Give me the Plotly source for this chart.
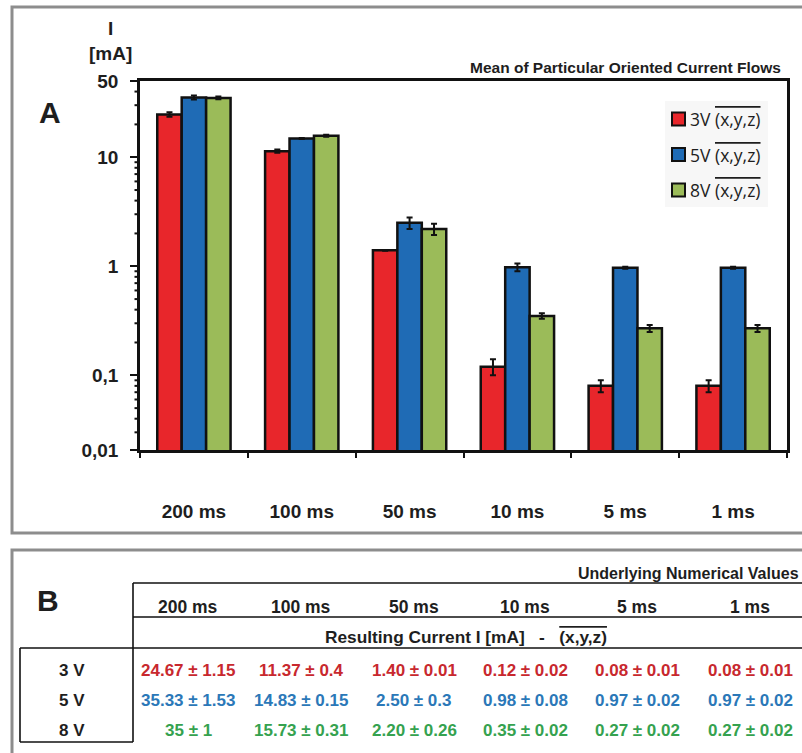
import math
import plotly.graph_objects as go

# ---- data -------------------------------------------------------------
durations = ["200 ms", "100 ms", "50 ms", "10 ms", "5 ms", "1 ms"]
voltages = ["3 V", "5 V", "8 V"]
series_names = ["3V", "5V", "8V"]

# mean ± sd of the resulting current I [mA]
cells_3v = ["24.67 ± 1.15", "11.37 ± 0.4", "1.40 ± 0.01", "0.12 ± 0.02", "0.08 ± 0.01", "0.08 ± 0.01"]
cells_5v = ["35.33 ± 1.53", "14.83 ± 0.15", "2.50 ± 0.3", "0.98 ± 0.08", "0.97 ± 0.02", "0.97 ± 0.02"]
cells_8v = ["35 ± 1", "15.73 ± 0.31", "2.20 ± 0.26", "0.35 ± 0.02", "0.27 ± 0.02", "0.27 ± 0.02"]

y_tick_vals = [50, 10, 1, 0.1]
y_tick_text = ["50", "10", "1", "0,1"]

bar_colors = ["#e8262b", "#1f6bb5", "#9bbb59"]
text_colors = ["#c8282e", "#2b78b8", "#35a24f"]


def split_cell(s):
    m, e = s.split("±")
    return float(m), float(e)


rows = [cells_3v, cells_5v, cells_8v]

# ---- figure geometry (pixels) ----------------------------------------
W, H = 802, 753
L, R = 140, 787           # plot area left / right
T, B = 81, 450            # plot area top / bottom
Y_LOW = -1.685            # log10 of the axis floor
Y_HIGH = math.log10(50)


def px(x):
    return (x - L) / (R - L)


def py(y):
    return (B - y) / (B - T)


def log_to_paper(v):
    return (math.log10(v) - Y_LOW) / (Y_HIGH - Y_LOW)


fig = go.Figure()

for name, cells, color in zip(series_names, rows, bar_colors):
    means = [split_cell(c)[0] for c in cells]
    errs = [split_cell(c)[1] for c in cells]
    fig.add_trace(go.Bar(
        x=durations, y=means, name=name,
        marker=dict(color=color, line=dict(color="#111111", width=2.5)),
        error_y=dict(type="data", array=errs, visible=True,
                     color="#111111", thickness=2, width=3),
        showlegend=False,
    ))

bold = "Liberation Sans"
ink = "#1e1e1e"

fig.update_layout(
    width=W, height=H,
    margin=dict(l=L, r=W - R, t=T, b=H - B),
    paper_bgcolor="white", plot_bgcolor="white",
    barmode="group", bargap=0.32, bargroupgap=0,
    font=dict(family=bold, color=ink),
)

fig.update_yaxes(
    type="log", range=[Y_LOW, Y_HIGH],
    tickmode="array",
    tickvals=y_tick_vals + [10 ** Y_LOW],
    ticktext=[f"<b>{t}</b>" for t in y_tick_text] + ["<b>0,01</b>"],
    tickfont=dict(family=bold, size=19, color=ink),
    ticks="outside", ticklen=7, tickwidth=2, tickcolor="#111111",
    showline=True, linecolor="#111111", linewidth=2.5, mirror=True,
    showgrid=False, zeroline=False, ticklabelstandoff=8,
)
fig.update_xaxes(
    tickmode="array", tickvals=durations,
    ticktext=[f"<b>{d}</b>" for d in durations],
    tickfont=dict(family=bold, size=19, color=ink),
    ticks="outside", tickson="boundaries", ticklen=5, tickwidth=2,
    tickcolor="#111111",
    showline=True, linecolor="#111111", linewidth=2.5, mirror=True,
    showgrid=False, ticklabelstandoff=42,
)

shapes = []
annotations = []


def line(x0, y0, x1, y1, color="#111111", width=1.6):
    shapes.append(dict(type="line", xref="paper", yref="paper",
                       x0=px(x0), y0=py(y0), x1=px(x1), y1=py(y1),
                       line=dict(color=color, width=width)))


def text(x, y, s, size, xanchor="center", color=ink, family=bold):
    annotations.append(dict(xref="paper", yref="paper", x=px(x), y=py(y),
                            text=s, showarrow=False, xanchor=xanchor,
                            yanchor="middle",
                            font=dict(family=family, size=size, color=color)))


# minor ticks of the log axis (2..9 of each decade)
for d in range(-2, 2):
    for k in range(2, 10):
        v = k * 10 ** d
        if Y_LOW < math.log10(v) < Y_HIGH:
            yp = log_to_paper(v)
            shapes.append(dict(type="line", xref="paper", yref="paper",
                               x0=px(L - 5.5), x1=px(L - 0.5), y0=yp, y1=yp,
                               line=dict(color="#111111", width=2)))

OVER = "<span style='text-decoration:overline'>(x,y,z)</span>"

# ---- panel frames ----------------------------------------------------
frame = "#8d8d8d"
shapes.append(dict(type="rect", xref="paper", yref="paper",
                   x0=px(12), y0=py(533), x1=px(815), y1=py(7),
                   line=dict(color=frame, width=3), layer="below"))
shapes.append(dict(type="rect", xref="paper", yref="paper",
                   x0=px(12), y0=py(770), x1=px(815), y1=py(550),
                   line=dict(color=frame, width=3), layer="below"))

# ---- panel A labels ---------------------------------------------------
text(110, 28, "<b>I</b>", 19)
text(110, 53, "<b>[mA]</b>", 19)
text(50, 112, "<b>A</b>", 30)
text(783, 67, "<b>Mean of Particular Oriented Current Flows</b>", 15.5, xanchor="right")

# legend
shapes.append(dict(type="rect", xref="paper", yref="paper",
                   x0=px(665), y0=py(207), x1=px(768), y1=py(101),
                   fillcolor="#f7f7f7", line=dict(width=0), layer="below"))
for i, (name, color) in enumerate(zip(series_names, bar_colors)):
    yc = 119 + i * 35.5
    shapes.append(dict(type="rect", xref="paper", yref="paper",
                       x0=px(672), y0=py(yc + 6.5), x1=px(685), y1=py(yc - 6.5),
                       fillcolor=color, line=dict(color="#111111", width=2)))
    text(688, yc, f"{name} {OVER}", 17.5, xanchor="left", family="Open Sans")

# ---- panel B table ----------------------------------------------------
col_x = [188, 301, 414, 525, 637, 750]
row_y = [670, 700, 730]

text(48, 600, "<b>B</b>", 30)
text(801, 573, "<b>Underlying Numerical Values</b>", 16, xanchor="right")
line(133, 583, 810, 583)
line(133, 617, 810, 617)
line(20, 648, 810, 648)
line(133, 583, 133, 742)
line(20, 648, 20, 742)
line(20, 742, 133, 742)

for d, x in zip(durations, col_x):
    text(x, 607, f"<b>{d}</b>", 17.5)
text(466, 637, f"<b>Resulting Current I [mA]   -   {OVER}</b>", 17.3)

for v, y, cells, color in zip(voltages, row_y, rows, text_colors):
    text(72, y, f"<b>{v}</b>", 17)
    for c, x in zip(cells, col_x):
        text(x, y, f"<b>{c}</b>", 17, color=color)

fig.update_layout(shapes=shapes, annotations=annotations)
fig.write_html("out.html")
